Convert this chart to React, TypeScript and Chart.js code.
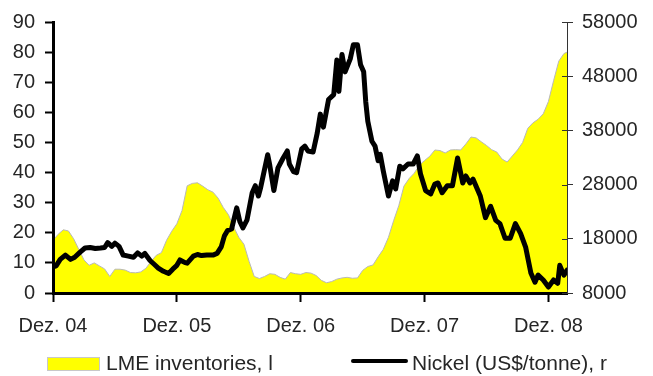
import React, { useEffect, useRef } from 'react';
import { Chart, registerables } from 'chart.js';

Chart.register(...registerables);

// X axis: months counted from December 2004
const tickMonths = [0, 12, 24, 36, 48];
const tickLabels = ['Dez. 04', 'Dez. 05', 'Dez. 06', 'Dez. 07', 'Dez. 08'];
const lastMonth = 49.8;

// LME nickel inventories (left axis), half-monthly
const inventoryMonths = [
  0, 0.5, 1, 1.5, 2, 2.5, 3, 3.5, 4, 4.5, 5, 5.5, 6, 6.5, 7, 7.5, 8, 8.5, 9, 9.5,
  10, 10.5, 11, 11.5, 12, 12.5, 13, 13.5, 14, 14.5, 15, 15.5, 16, 16.5, 17, 17.5, 18, 18.5, 19, 19.5,
  20, 20.5, 21, 21.5, 22, 22.5, 23, 23.5, 24, 24.5, 25, 25.5, 26, 26.5, 27, 27.5, 28, 28.5, 29, 29.5,
  30, 30.5, 31, 31.5, 32, 32.5, 33, 33.5, 34, 34.5, 35, 35.5, 36, 36.5, 37, 37.5, 38, 38.5, 39, 39.5,
  40, 40.5, 41, 41.5, 42, 42.5, 43, 43.5, 44, 44.5, 45, 45.5, 46, 46.5, 47, 47.5, 48, 48.5, 49, 49.5,
  49.8,
];
const inventoryValues = [
  17.5, 19.5, 21, 20.6, 18, 14.5, 11, 9.2, 10, 9, 8, 5.5, 7.9, 7.9, 7.6, 6.8, 6.7, 7, 8.2, 10.5,
  12.5, 13.4, 17.5, 20.5, 23, 27.4, 35.6, 36.4, 36.6, 35.5, 34.3, 33.5, 31.5, 28.4, 26, 22, 18.5, 16.2, 10.5, 5.5,
  4.8, 5.5, 6.4, 6.2, 5.2, 4.6, 6.8, 6.4, 6.2, 6.8, 6.6, 5.8, 4.2, 3.4, 3.8, 4.6, 5, 5.2, 4.9, 5,
  7.5, 8.8, 9.3, 12, 14.5, 18.5, 24, 29, 35.5, 38, 39.8, 42.5, 44, 45.4, 47.5, 47.3, 46.5, 47.5, 47.6, 47.5,
  49.5, 51.8, 51.5, 50.2, 49, 47.6, 46.8, 44.5, 43.5, 45.5, 47.5, 50, 54.7, 56.5, 57.7, 59.5, 63.6, 70.5, 77, 79.5,
  80,
];

// Nickel cash price, US$/tonne (right axis)
const nickelMonths = [
  0, 0.3, 0.7, 1.2, 1.7, 2.1, 2.6, 3.1, 3.6, 4.1, 4.6, 5, 5.3, 5.7, 6, 6.4, 6.8, 7.3, 7.8, 8.2,
  8.6, 8.9, 9.4, 9.8, 10.2, 10.7, 11.2, 11.6, 12, 12.3, 12.8, 13, 13.6, 14, 14.4, 14.9, 15.5, 15.9, 16.3, 16.6,
  16.9, 17.3, 17.8, 18.1, 18.4, 18.8, 19.3, 19.6, 19.9, 20.1, 20.8, 21, 21.4, 21.8, 22.3, 22.7, 22.9, 23.3, 23.6, 24.1,
  24.4, 24.7, 25.2, 25.6, 25.9, 26.2, 26.7, 27.2, 27.5, 27.7, 28, 28.3, 28.8, 29.1, 29.5, 29.8, 30.1, 30.3, 30.5, 30.9,
  31.2, 31.5, 31.7, 32, 32.5, 32.9, 33.2, 33.6, 33.9, 34.4, 34.9, 35.3, 35.6, 36.1, 36.6, 37, 37.3, 37.7, 38.2, 38.7,
  39.2, 39.7, 40, 40.4, 40.7, 41.4, 41.9, 42.4, 42.9, 43.3, 43.8, 44.3, 44.8, 45.3, 45.8, 46.3, 46.7, 47, 47.5, 48,
  48.5, 48.9, 49.1, 49.5, 49.8,
];
const nickelPrices = [
  12800, 13000, 14200, 15000, 14200, 14600, 15500, 16300, 16400, 16200, 16300, 16400, 17300, 16600, 17200, 16600, 15000, 14800, 14600, 15400,
  14800, 15300, 14000, 13300, 12600, 12000, 11600, 12400, 13100, 14100, 13600, 13500, 14800, 15100, 14900, 15000, 15000, 15300, 16500, 18500,
  19500, 19800, 23700, 21200, 20000, 21500, 26500, 27800, 25900, 27300, 33500, 31600, 26900, 31100, 32900, 34200, 31800, 30400, 30200, 34600,
  35100, 34200, 34000, 37500, 41000, 38600, 43700, 44600, 51000, 45200, 52000, 48800, 51200, 53800, 53800, 50100, 48800, 43300, 39700, 36000,
  35100, 32400, 33600, 30500, 25900, 28700, 27200, 31400, 30900, 31800, 31800, 33300, 30000, 26900, 26300, 28100, 28300, 26500, 27800, 27800,
  32900, 28300, 29600, 28300, 29000, 25900, 21900, 24000, 21400, 20800, 18100, 18100, 20800, 19000, 16400, 11700, 10000, 11300, 10400, 9100,
  10400, 9800, 13100, 11300, 12200,
];

const FONT = "'Liberation Sans', Arial, Helvetica, sans-serif";
const TEXT = '#262626';

// Short inward half of the right-axis tick marks
const rightInnerTicks = {
  id: 'rightInnerTicks',
  afterDraw(chart: any) {
    const s = chart.scales.y2;
    const ctx = chart.ctx;
    ctx.save();
    ctx.strokeStyle = '#333';
    ctx.lineWidth = 1;
    s.ticks.forEach((t: any) => {
      const y = Math.round(s.getPixelForValue(t.value)) + 0.5;
      ctx.beginPath();
      ctx.moveTo(s.left - 5, y);
      ctx.lineTo(s.left, y);
      ctx.stroke();
    });
    ctx.restore();
  },
};

export default function App() {
  const canvasRef = useRef<HTMLCanvasElement>(null);

  useEffect(() => {
    const canvas = canvasRef.current;
    if (!canvas) return;
    const chart = new Chart(canvas, {
      type: 'line',
      data: {
        datasets: [
          {
            label: 'LME inventories, l',
            data: inventoryMonths.map((m, i) => ({ x: m, y: inventoryValues[i] })),
            yAxisID: 'y',
            fill: 'origin',
            backgroundColor: '#ffff00',
            borderColor: '#b8b8b8',
            borderWidth: 1,
            pointRadius: 0,
            tension: 0,
            order: 2,
          },
          {
            label: 'Nickel (US$/tonne), r',
            data: nickelMonths.map((m, i) => ({ x: m, y: nickelPrices[i] })),
            yAxisID: 'y2',
            fill: false,
            borderColor: '#000000',
            borderWidth: 5,
            borderJoinStyle: 'round',
            borderCapStyle: 'round',
            pointRadius: 0,
            tension: 0,
            order: 1,
          },
        ],
      },
      options: {
        responsive: false,
        animation: false,
        devicePixelRatio: 1,
        layout: { padding: { top: 20, left: 0, right: 0, bottom: 0 } },
        plugins: { legend: { display: false }, tooltip: { enabled: false } },
        scales: {
          x: {
            type: 'linear',
            min: 0,
            max: lastMonth,
            afterFit(s: any) {
              s.height = 83;
            },
            afterBuildTicks(s: any) {
              s.ticks = tickMonths.map((v) => ({ value: v }));
            },
            ticks: {
              autoSkip: false,
              maxRotation: 0,
              padding: 12,
              color: TEXT,
              font: { family: FONT, size: 20 },
              callback: (v: any) => tickLabels[tickMonths.indexOf(Number(v))] ?? '',
            },
            grid: { drawOnChartArea: false, tickLength: 9, tickWidth: 2, tickColor: '#000', color: '#000' },
            border: { color: '#000', width: 3, z: 1 },
          },
          y: {
            position: 'left',
            min: 0,
            max: 90,
            afterFit(s: any) {
              s.width = 53;
            },
            ticks: { stepSize: 10, padding: 10, color: TEXT, font: { family: FONT, size: 20 } },
            grid: { drawOnChartArea: false, tickLength: 8, tickWidth: 2, tickColor: '#000', color: '#000' },
            border: { color: '#000', width: 3, z: 1 },
          },
          y2: {
            position: 'right',
            min: 8000,
            max: 58000,
            afterFit(s: any) {
              s.width = 86;
            },
            ticks: {
              stepSize: 10000,
              padding: 9,
              color: TEXT,
              font: { family: FONT, size: 20 },
              callback: (v: any) => String(v),
            },
            grid: { drawOnChartArea: false, tickLength: 6, tickWidth: 1, tickColor: '#333', color: '#333' },
            border: { color: '#333', width: 1, z: 1 },
          },
        },
      },
      plugins: [rightInnerTicks],
    } as any);
    return () => chart.destroy();
  }, []);

  const legendText: React.CSSProperties = {
    position: 'absolute',
    top: 352,
    fontFamily: FONT,
    fontSize: 21,
    lineHeight: '21px',
    color: TEXT,
    whiteSpace: 'nowrap',
  };

  return (
    <div style={{ position: 'fixed', left: 0, top: 0, width: 653, height: 376, background: '#fff' }}>
      <canvas ref={canvasRef} width={653} height={376} style={{ display: 'block', width: 653, height: 376 }} />
      <div
        style={{
          position: 'absolute',
          left: 47,
          top: 357,
          width: 51,
          height: 12,
          background: '#ffff00',
          border: '1px solid #c8c8c8',
        }}
      />
      <div style={{ ...legendText, left: 106 }}>LME inventories, l</div>
      <div style={{ position: 'absolute', left: 351, top: 359, width: 57, height: 4, background: '#000', borderRadius: 2 }} />
      <div style={{ ...legendText, left: 412 }}>Nickel (US$/tonne), r</div>
    </div>
  );
}
